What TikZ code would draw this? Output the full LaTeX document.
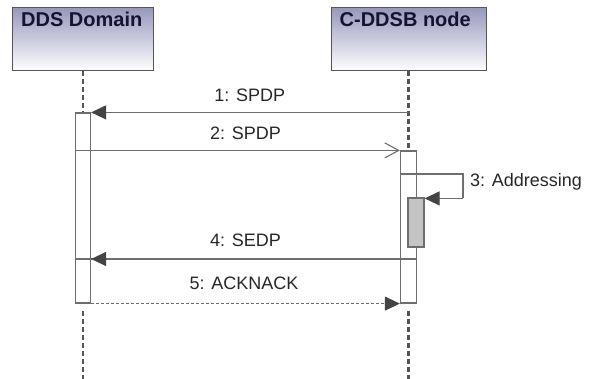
\documentclass[tikz,border=0pt]{standalone}
\usepackage{fontspec}
\setmainfont{Liberation Sans}
\usetikzlibrary{arrows.meta}
\definecolor{edge}{HTML}{6E6E6E}
\definecolor{boxedge}{HTML}{555555}
\definecolor{headtop}{RGB}{152,152,188}
\definecolor{headtext}{RGB}{20,20,48}
\definecolor{tipfill}{HTML}{444444}
\definecolor{barfill}{HTML}{C4C4C4}
\tikzset{
  lifebox/.style={draw=boxedge, line width=1pt, top color=headtop, bottom color=white,
    minimum height=63pt, inner sep=0pt},
  headlabel/.style={anchor=base west, inner sep=0pt, text=headtext,
    font=\bfseries\fontsize{20}{22}\selectfont},
  lifeline/.style={draw=boxedge, line width=2.6pt, dash pattern=on 5pt off 3pt},
  actbar/.style={draw=edge, line width=1.2pt, fill=white, minimum width=15pt, inner sep=0pt},
  nestbar/.style={draw=edge, line width=1.2pt, fill=barfill, minimum width=16pt, inner sep=0pt},
  msg/.style={draw=edge, line width=1.2pt},
  filledtip/.style={-{Triangle[length=15pt,width=14pt,fill=tipfill,color=tipfill]}},
  opentip/.style={-{Straight Barb[length=14pt,width=15pt,line width=1.1pt]}},
  msglabel/.style={anchor=base, inner sep=0pt, text=black!85,
    font=\fontsize{18}{20}\selectfont},
}
\begin{document}
\begin{tikzpicture}[x=1pt, y=-1pt]
\useasboundingbox (0,0) rectangle (600,379);

% participant heads
\node[lifebox, minimum width=141pt] (dds) at (83,39.5) {};
\node[lifebox, minimum width=155pt] (cdd) at (408.5,39.5) {};
\node[headlabel] (ddsT) at ([xshift=9pt,yshift=-19pt]dds.north west) {DDS Domain};
\node[headlabel] (cddT) at ([xshift=9pt,yshift=-19pt]cdd.north west) {C-DDSB node};

% activation bars
\node[actbar, minimum height=190pt] (actA) at (83,208) {};
\node[actbar, minimum width=16pt, minimum height=152pt] (actB) at (408.5,227) {};

% lifelines
\coordinate (endA) at (83,382);
\coordinate (endB) at (408.5,382);
\draw[lifeline] (dds.south) -- (actA.north);
\draw[lifeline] (cdd.south) -- (actB.north);
\draw[lifeline] ([yshift=-7pt]actA.south) -- (endA);
\draw[lifeline] ([yshift=-7pt]actB.south) -- (endB);

% 1: SPDP
\draw[msg, filledtip] (actB.north |- actA.north east) -- (actA.north east)
  node[msglabel, pos=0.5, yshift=11pt] (l1) {1: SPDP};

% 2: SPDP
\draw[msg, opentip] (actA.west |- actB.north west) -- (actB.north west);
\node[msglabel] (l2) at (245.5,140) {2: SPDP};

% 3: Addressing (self call) with nested activation
\coordinate (loop) at (463,174);
\node[nestbar, minimum height=49pt] (actC) at (416,222.5) {};
\draw[msg] (actB.west |- loop) -- (loop) |- ([yshift=-1pt]actC.north east -| loop);
\draw[msg, filledtip] ([yshift=-1pt]actC.north east -| loop) -- ([yshift=-1pt]actC.north east);
\node[msglabel, anchor=base west] (l3) at (470,187) {3: Addressing};

% 4: SEDP
\coordinate (m4) at (0,259);
\draw[msg] (actB.east |- m4) -- (actA.west |- m4);
\draw[msg, filledtip] (actB.west |- m4) -- (actA.east |- m4);
\node[msglabel] (l4) at (245.5,247) {4: SEDP};

% 5: ACKNACK (reply)
\draw[msg, line width=1pt, dash pattern=on 3pt off 2pt, filledtip] (actA.south east) -- (actB.south west);
\node[msglabel] (l5) at (244,290) {5: ACKNACK};
\end{tikzpicture}
\end{document}
